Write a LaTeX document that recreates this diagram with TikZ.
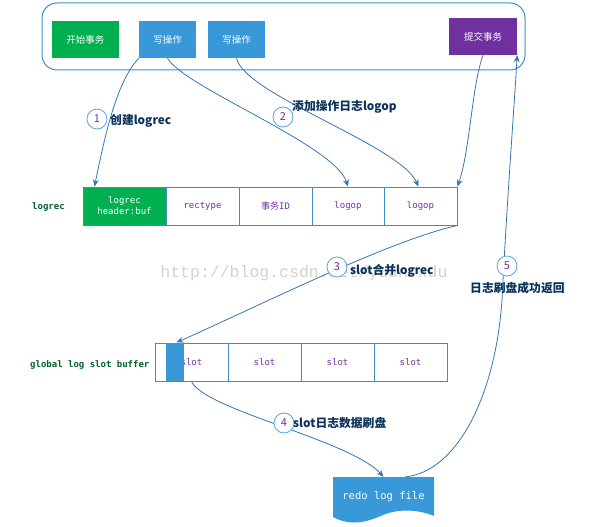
\documentclass[tikz,border=0pt]{standalone}
\usepackage{fontspec}
\setmainfont{Noto Sans CJK SC}
\newfontfamily\cjk{Noto Sans CJK SC}
\newfontfamily\mono{DejaVu Sans Mono}
\newfontfamily\wmfont{Liberation Mono}
\usetikzlibrary{arrows.meta,calc}
\definecolor{boxgreen}{HTML}{00B050}
\definecolor{boxblue}{HTML}{3998D8}
\definecolor{boxpurple}{HTML}{7030A0}
\definecolor{cellborder}{HTML}{3C8DCC}
\definecolor{cellpurple}{HTML}{7030A0}
\definecolor{connblue}{HTML}{3476B2}
\definecolor{circblue}{HTML}{5AA6E0}
\definecolor{labelnavy}{RGB}{10,50,90}
\definecolor{rowgreen}{HTML}{00602E}
\definecolor{wmgray}{RGB}{212,208,204}
\tikzset{
  topbox/.style={minimum height=37pt, inner sep=0, text=white, font=\cjk\fontsize{9.5}{11}\selectfont},
  cell/.style={draw=cellborder, line width=1pt, minimum height=38pt, minimum width=73pt, inner sep=0, text=cellpurple, font=\mono\fontsize{9}{11}\selectfont},
  stepnum/.style={circle, draw=circblue, fill=white, line width=0.8pt, minimum size=20pt, inner sep=0, text=cellpurple, font=\cjk\fontsize{11}{12}\selectfont},
  steplabel/.style={anchor=west, inner sep=0, text=labelnavy, font=\cjk\bfseries\fontsize{11.8}{13}\selectfont},
  rowlabel/.style={anchor=west, inner sep=0, text=rowgreen, font=\mono\bfseries\fontsize{9}{10}\selectfont},
  conn/.style={draw=connblue, line width=0.8pt},
  arr/.style={conn, -{Stealth[length=7pt,width=6pt]}},
}
\begin{document}
\begin{tikzpicture}[x=1pt,y=-1pt]
\useasboundingbox (0,0) rectangle (590,527);
% watermark
\node[text=wmgray, font=\wmfont\fontsize{16.5}{18}\selectfont, inner sep=0] (wm) at (304,273) {http://blog.csdn.net/yuanrxdu};
% outer frame
\draw[cellborder, line width=1pt, rounded corners=15pt] (42,3) rectangle (525,70);
% top boxes
\node[topbox, fill=boxgreen, minimum width=67pt] (start) at (85.5,39.5) {开始事务};
\node[topbox, fill=boxblue, minimum width=57pt] (w1) at (167.5,39.5) {写操作};
\node[topbox, fill=boxblue, minimum width=57pt] (w2) at (236.5,39.5) {写操作};
\node[topbox, fill=boxpurple, minimum width=68pt] (commit) at (483,36.5) {提交事务};
% logrec row
\node[rowlabel] (lrl) at (32,207) {logrec};
\node[cell, fill=boxgreen, text=white, minimum width=83pt, align=center, font=\mono\fontsize{9}{11}\selectfont] (c0) at (124.5,206) {logrec\\header:buf};
\node[cell] (c1) at (202.5,206) {rectype};
\node[cell] (c2) at (275.5,206) {{\cjk 事务}ID};
\node[cell, minimum width=72pt] (c3) at (348,206) {logop};
\node[cell] (c4) at (420.5,206) {logop};
% slot row
\node[rowlabel] (gsl) at (30,365) {global log slot buffer};
\node[cell] (s0) at (191.5,362) {slot};
\node[cell] (s1) at (264.5,362) {slot};
\node[cell] (s2) at (337.5,362) {slot};
\node[cell] (s3) at (410.5,362) {slot};
\node[fill=boxblue, minimum width=18pt, minimum height=38pt, inner sep=0] (bar) at (175,362) {};
% redo log file
\fill[boxblue] (333,477) -- (434,477) -- (434,516) .. controls (420,510) and (400,508) .. (383,515) .. controls (365,523) and (350,526) .. (333,517) -- cycle;
\node[minimum width=101pt, minimum height=40pt, inner sep=0, text=white, font=\mono\fontsize{10.5}{12}\selectfont] (redo) at (383.5,497) {redo log file};
% connectors
\draw[arr] (w1.south west) .. controls (116,82) and (104,140) .. ($(c0.north west)+(12,0)$);
\draw[arr] (w1.south) .. controls (185,88) and (335,145) .. (c3.north);
\draw[arr] (w2.south) .. controls (245,95) and (400,145) .. ($(c4.north)+(-2,0)$);
\draw[arr] (commit.south) .. controls (472,85) and (470,150) .. (c4.north east);
\draw[arr] (c4.south east) .. controls (390,240) and (250,310) .. ($(s0.north west)+(22,0)$);
\draw[arr] (s0.south) .. controls (205,410) and (350,440) .. (redo.north);
\draw[arr] ($(redo.north)+(22,0)$) .. controls (455,472) and (495,400) .. (502,300) .. controls (507,200) and (514,110) .. (commit.south east);
% step circles
\node[stepnum] (n1) at (97,119) {1};
\node[stepnum] (n2) at (283,117) {2};
\node[stepnum] (n3) at (337,267) {3};
\node[stepnum] (n4) at (284,423) {4};
\node[stepnum] (n5) at (507,266) {5};
% step labels
\node[steplabel] (l1) at (110,121) {创建logrec};
\node[steplabel] (l2) at (292,107) {添加操作日志logop};
\node[steplabel] (l3) at (350,271) {slot合并logrec};
\node[steplabel] (l4) at (293,423) {slot日志数据刷盘};
\node[steplabel] (l5) at (470,288) {日志刷盘成功返回};
\end{tikzpicture}
\end{document}
